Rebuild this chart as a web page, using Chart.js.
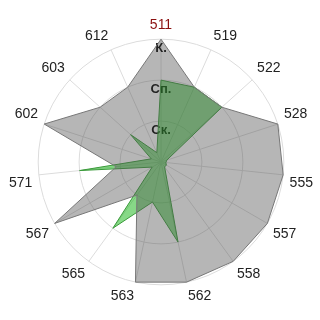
<!DOCTYPE html>
<html>
<head>
<meta charset="utf-8">
<script src="https://cdn.jsdelivr.net/npm/chart.js@4"></script>
<style>
  body { margin: 0; background: #fff; }
  #wrap { width: 320px; height: 320px; }
</style>
</head>
<body>
<div id="wrap"><canvas id="radarChart"></canvas></div>
<script>
  // categories, clockwise from the top
  const categories = ['511', '519', '522', '528', '555', '557', '558', '562', '563', '565', '567', '571', '602', '603', '612'];
  const grayValues = [3, 2, 2, 3, 3, 3, 3, 3, 3, 1, 3, 1.1, 3, 2, 2];
  const greenValues = [2, 2, 2, 0.15, 0.12, 0.15, 0.15, 2, 1, 2, 0.25, 2, 0.25, 1, 0.25];
  // ring labels for 1, 2, 3
  const tickLabels = ['Ск.', 'Сп.', 'К.'];

  const radarChart = new Chart(document.getElementById('radarChart').getContext('2d'), {
    type: 'radar',
    data: {
      labels: categories,
      datasets: [{
        data: grayValues,
        backgroundColor: 'rgba(80,80,80,0.42)',
        borderColor: '#777',
        borderWidth: 1,
        pointRadius: 0,
        fill: true
      }, {
        data: greenValues,
        backgroundColor: 'rgba(5,175,5,0.48)',
        borderColor: '#3a9a3a',
        borderWidth: 1,
        pointRadius: 0,
        fill: true
      }]
    },
    options: {
      responsive: true,
      maintainAspectRatio: false,
      animation: false,
      layout: { padding: { top: 9, bottom: 6, left: 9, right: 6 } },
      plugins: {
        legend: { display: false },
        tooltip: { enabled: false }
      },
      elements: { line: { tension: 0 } },
      scales: {
        r: {
          min: 0,
          max: 3,
          ticks: {
            stepSize: 1,
            showLabelBackdrop: false,
            backdropPadding: 0,
            color: '#000',
            font: { family: 'Liberation Sans, Arial, sans-serif', size: 13, weight: 'bold', lineHeight: 0.7 },
            callback: v => ['', tickLabels[v - 1] || '']
          },
          grid: { circular: true, color: '#dcdcdc' },
          angleLines: { color: '#dcdcdc' },
          pointLabels: {
            padding: 0,
            font: { family: 'Liberation Sans, Arial, sans-serif', size: 14, lineHeight: 1.1 },
            color: ctx => ctx.index === 0 ? '#8b1010' : '#222'
          }
        }
      }
    }
  });
</script>
</body>
</html>
